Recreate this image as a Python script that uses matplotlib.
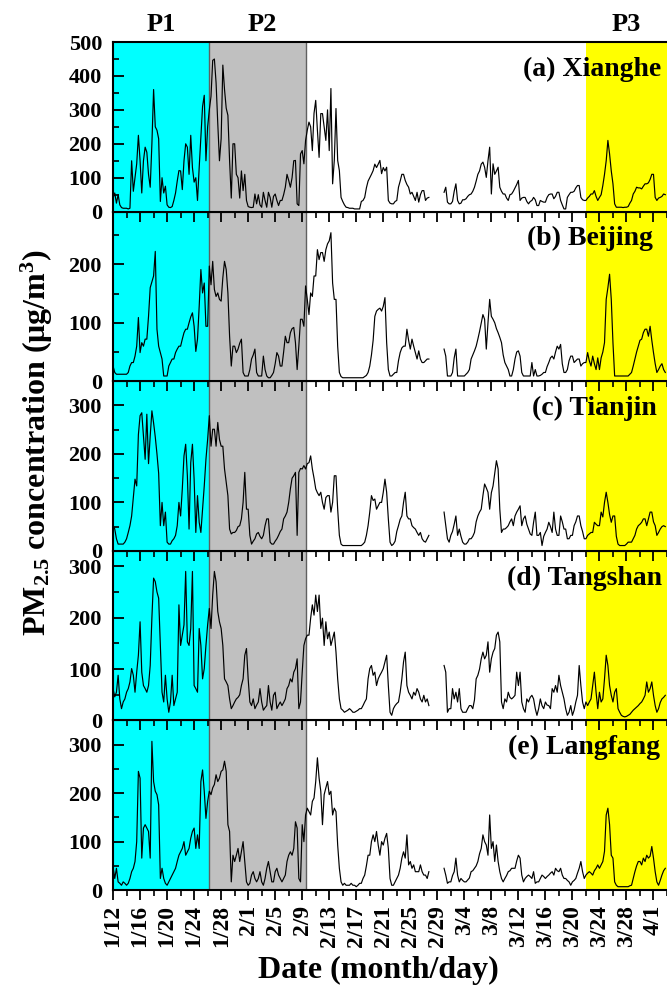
import matplotlib
matplotlib.use('Agg')
import matplotlib.pyplot as plt
import matplotlib.transforms as mtransforms
from matplotlib.ticker import MultipleLocator
import numpy as np
import pandas as pd

plt.rcParams['font.family'] = 'Liberation Serif'
plt.rcParams['font.weight'] = 'bold'
plt.rcParams['mathtext.fontset'] = 'custom'
plt.rcParams['mathtext.rm'] = 'Liberation Serif:bold'
plt.rcParams['mathtext.it'] = 'Liberation Serif:bold'
plt.rcParams['mathtext.bf'] = 'Liberation Serif:bold'
plt.rcParams['mathtext.default'] = 'rm'

nan = np.nan

# PM2.5, 6-hourly from 2016-01-12 00:00 (4 values per day)
xianghe = [
    40, 55, 25, 50, 20, 12, 10, 10, 10, 8, 10, 150, 60, 100, 141, 225,
    150, 55, 150, 190, 175, 110, 72, 200, 360, 250, 240, 215, 30, 100, 55, 75,
    20, 13, 12, 15, 33, 55, 90, 121, 120, 65, 150, 200, 190, 110, 225, 130,
    87, 100, 33, 130, 220, 310, 343, 150, 250, 300, 340, 446, 450, 380, 260, 150,
    215, 432, 360, 305, 284, 150, 40, 200, 200, 110, 100, 40, 120, 62, 110, 33,
    15, 13, 12, 13, 52, 23, 50, 20, 13, 57, 33, 13, 57, 42, 13, 45,
    52, 33, 18, 33, 33, 50, 72, 110, 92, 72, 100, 150, 151, 23, 18, 170,
    180, 141, 210, 240, 264, 250, 180, 290, 328, 240, 160, 289, 289, 250, 210, 300,
    180, 363, 82, 151, 304, 151, 121, 42, 30, 20, 13, 12, 10, 10, 10, 8,
    8, 8, 8, 30, 33, 42, 70, 90, 100, 110, 121, 140, 130, 140, 151, 112,
    130, 120, 131, 33, 25, 23, 23, 30, 33, 72, 90, 110, 110, 92, 80, 72,
    52, 57, 45, 33, 57, 28, 50, 62, 62, 33, 40, 42, nan, nan, nan, nan,
    nan, nan, nan, nan, 57, 72, 28, 23, 23, 30, 60, 82, 33, 23, 25, 35,
    35, 38, 45, 50, 52, 60, 72, 90, 110, 120, 140, 146, 131, 101, 150, 190,
    52, 141, 110, 120, 131, 72, 60, 52, 52, 40, 33, 50, 52, 60, 70, 80,
    92, 33, 40, 42, 42, 30, 23, 30, 33, 42, 35, 18, 18, 33, 30, 28,
    28, 42, 50, 52, 52, 38, 45, 57, 57, 33, 20, 8, 8, 42, 50, 57,
    57, 60, 70, 77, 77, 42, 35, 33, 33, 40, 45, 52, 52, 62, 45, 33,
    42, 50, 77, 110, 150, 210, 170, 120, 82, 23, 13, 13, 13, 13, 12, 13,
    13, 15, 25, 33, 52, 60, 72, 70, 70, 67, 75, 82, 82, 85, 95, 110,
    110, 42, 33, 40, 42, 45, 52, 50,
]
beijing = [
    26, 15, 12, 12, 12, 12, 12, 12, 12, 15, 26, 32, 32, 43, 60, 109,
    49, 66, 60, 72, 72, 111, 160, 170, 180, 222, 89, 60, 49, 38, 9, 9,
    9, 26, 32, 38, 38, 49, 55, 60, 60, 72, 83, 89, 89, 100, 110, 117,
    94, 51, 72, 128, 191, 151, 168, 94, 94, 197, 165, 205, 157, 145, 151, 140,
    137, 177, 205, 191, 151, 77, 26, 60, 60, 49, 55, 65, 72, 15, 9, 9,
    9, 20, 38, 45, 55, 15, 9, 9, 9, 43, 20, 9, 6, 6, 10, 15,
    30, 49, 43, 26, 26, 50, 77, 66, 66, 83, 90, 92, 66, 20, 60, 106,
    106, 94, 163, 140, 114, 151, 145, 180, 180, 225, 208, 220, 220, 205, 225, 235,
    240, 254, 168, 140, 140, 60, 15, 8, 6, 6, 6, 6, 6, 6, 6, 6,
    6, 6, 6, 6, 6, 8, 10, 15, 26, 45, 70, 111, 120, 123, 125, 120,
    128, 143, 66, 20, 9, 9, 12, 15, 15, 35, 49, 57, 60, 60, 89, 70,
    55, 72, 60, 49, 38, 52, 38, 32, 32, 35, 38, 38, nan, nan, nan, nan,
    nan, nan, nan, nan, 55, 43, 9, 9, 9, 15, 40, 55, 9, 9, 9, 9,
    9, 12, 15, 20, 38, 45, 52, 60, 72, 85, 100, 114, 106, 55, 100, 140,
    111, 106, 100, 90, 83, 75, 66, 45, 32, 26, 20, 9, 9, 20, 38, 50,
    52, 43, 15, 9, 9, 9, 9, 9, 32, 9, 20, 9, 9, 10, 12, 15,
    15, 25, 32, 40, 43, 38, 50, 60, 55, 63, 30, 15, 15, 20, 35, 43,
    43, 32, 35, 38, 38, 26, 30, 32, 32, 49, 35, 26, 43, 30, 20, 40,
    20, 40, 50, 66, 140, 160, 183, 140, 66, 9, 9, 9, 9, 9, 9, 9,
    9, 9, 12, 15, 26, 38, 50, 60, 70, 72, 83, 89, 89, 77, 94, 70,
    49, 30, 15, 20, 26, 30, 20, 15,
]
tianjin = [
    52, 45, 25, 14, 14, 14, 14, 18, 25, 38, 52, 72, 110, 148, 134, 240,
    279, 285, 237, 189, 282, 180, 237, 289, 264, 235, 200, 160, 52, 100, 52, 80,
    18, 14, 14, 21, 25, 32, 52, 100, 72, 128, 196, 220, 155, 45, 182, 220,
    148, 38, 114, 59, 38, 86, 134, 189, 230, 279, 216, 251, 251, 216, 265, 230,
    216, 216, 169, 142, 114, 45, 35, 38, 38, 42, 50, 52, 66, 100, 162, 86,
    86, 32, 14, 20, 25, 35, 38, 30, 25, 32, 52, 66, 66, 18, 14, 14,
    20, 25, 32, 40, 45, 66, 72, 80, 100, 128, 150, 155, 162, 32, 162, 170,
    169, 176, 169, 180, 182, 196, 169, 150, 128, 120, 114, 121, 100, 86, 110, 114,
    114, 80, 100, 155, 155, 86, 32, 14, 11, 11, 11, 11, 11, 11, 11, 11,
    11, 11, 11, 11, 14, 18, 32, 52, 80, 114, 104, 107, 86, 93, 100, 100,
    121, 148, 121, 66, 18, 11, 14, 20, 40, 52, 65, 72, 100, 121, 72, 66,
    66, 52, 48, 45, 38, 32, 38, 25, 20, 18, 25, 32, nan, nan, nan, nan,
    nan, nan, nan, nan, 80, 52, 25, 18, 32, 40, 55, 72, 32, 45, 30, 18,
    14, 14, 18, 25, 25, 30, 38, 60, 72, 80, 86, 114, 138, 130, 121, 86,
    120, 134, 160, 186, 169, 86, 38, 45, 45, 48, 52, 60, 66, 52, 72, 80,
    86, 93, 52, 66, 72, 55, 45, 35, 32, 59, 80, 32, 32, 38, 11, 30,
    38, 45, 59, 50, 38, 80, 45, 32, 32, 72, 60, 45, 45, 25, 25, 32,
    32, 52, 60, 72, 72, 52, 40, 25, 25, 32, 35, 38, 38, 59, 55, 52,
    52, 80, 70, 100, 121, 100, 75, 59, 72, 72, 30, 14, 11, 11, 11, 11,
    14, 18, 18, 18, 25, 32, 45, 52, 55, 59, 66, 66, 52, 66, 80, 80,
    60, 52, 32, 38, 45, 50, 52, 50,
]
tangshan = [
    62, 46, 55, 88, 42, 23, 36, 42, 55, 62, 75, 101, 88, 55, 94, 127,
    192, 94, 68, 62, 55, 68, 107, 200, 277, 270, 250, 238, 146, 55, 36, 88,
    42, 16, 36, 88, 29, 42, 55, 225, 146, 166, 186, 290, 153, 146, 179, 290,
    68, 62, 55, 179, 146, 81, 101, 146, 186, 218, 179, 244, 290, 270, 212, 192,
    179, 146, 81, 75, 68, 42, 23, 29, 36, 42, 45, 50, 68, 81, 127, 140,
    81, 36, 29, 42, 23, 30, 36, 62, 36, 20, 25, 29, 68, 36, 20, 49,
    55, 23, 30, 36, 29, 35, 42, 62, 68, 81, 75, 94, 101, 120, 23, 36,
    94, 146, 159, 166, 166, 199, 225, 205, 244, 212, 244, 179, 199, 146, 192, 159,
    172, 146, 159, 172, 133, 81, 42, 23, 20, 16, 18, 20, 23, 20, 16, 16,
    18, 20, 23, 23, 29, 36, 42, 81, 101, 107, 88, 94, 68, 81, 88, 94,
    101, 114, 127, 68, 16, 10, 23, 29, 33, 36, 55, 81, 114, 133, 68, 55,
    49, 42, 55, 49, 62, 55, 42, 36, 49, 36, 42, 29, nan, nan, nan, nan,
    nan, nan, nan, nan, 107, 94, 16, 23, 23, 62, 42, 55, 36, 62, 23, 16,
    16, 16, 23, 29, 29, 23, 40, 81, 88, 100, 120, 133, 120, 127, 153, 94,
    120, 133, 140, 166, 172, 153, 36, 23, 42, 36, 55, 45, 42, 45, 49, 94,
    68, 94, 36, 23, 16, 42, 36, 45, 49, 42, 23, 10, 23, 42, 29, 23,
    36, 30, 29, 23, 62, 55, 68, 55, 88, 68, 55, 42, 23, 10, 16, 29,
    10, 20, 36, 49, 107, 68, 36, 23, 36, 29, 36, 42, 68, 94, 55, 23,
    55, 36, 42, 81, 127, 107, 68, 49, 36, 55, 62, 23, 16, 10, 8, 7,
    8, 10, 12, 16, 20, 23, 26, 29, 33, 36, 42, 49, 75, 55, 62, 75,
    49, 29, 16, 23, 35, 42, 45, 49,
]
langfang = [
    48, 24, 45, 17, 14, 10, 17, 14, 10, 14, 24, 38, 45, 59, 100, 245,
    231, 66, 128, 135, 128, 121, 66, 307, 224, 204, 197, 176, 24, 45, 24, 14,
    10, 17, 24, 31, 38, 45, 59, 72, 79, 86, 100, 72, 79, 86, 107, 121,
    128, 86, 114, 86, 224, 248, 204, 148, 183, 204, 197, 211, 218, 238, 224, 231,
    245, 248, 266, 245, 135, 121, 17, 72, 59, 72, 86, 59, 79, 100, 59, 17,
    10, 14, 31, 38, 24, 17, 24, 38, 17, 10, 24, 45, 59, 38, 17, 17,
    38, 45, 31, 24, 17, 24, 31, 59, 72, 79, 72, 86, 141, 128, 24, 17,
    135, 100, 155, 169, 162, 155, 183, 190, 224, 273, 231, 204, 135, 197, 211, 224,
    197, 204, 155, 169, 162, 93, 45, 17, 10, 14, 10, 10, 10, 14, 10, 10,
    7, 10, 14, 14, 24, 31, 50, 72, 72, 100, 114, 100, 121, 93, 72, 100,
    93, 107, 117, 86, 24, 10, 10, 17, 24, 31, 45, 66, 79, 66, 114, 52,
    59, 45, 52, 38, 38, 38, 52, 38, 31, 31, 24, 38, nan, nan, nan, nan,
    nan, nan, nan, nan, 45, 31, 14, 17, 17, 30, 38, 66, 31, 17, 24, 20,
    17, 17, 21, 25, 38, 40, 45, 50, 59, 75, 86, 114, 100, 93, 72, 155,
    86, 100, 59, 93, 59, 38, 24, 17, 24, 30, 38, 40, 45, 45, 45, 60,
    72, 66, 31, 17, 24, 28, 31, 28, 24, 38, 14, 17, 17, 24, 31, 28,
    24, 28, 31, 35, 38, 31, 45, 40, 38, 45, 31, 24, 24, 20, 17, 10,
    17, 20, 24, 35, 45, 59, 38, 24, 31, 35, 38, 35, 31, 40, 45, 52,
    45, 52, 59, 80, 155, 169, 135, 72, 66, 17, 10, 7, 7, 7, 7, 7,
    7, 7, 9, 10, 24, 38, 50, 59, 59, 52, 66, 59, 72, 66, 70, 90,
    66, 38, 17, 10, 20, 31, 40, 45,
]

series = [xianghe, beijing, tianjin, tangshan, langfang]
site_labels = ['(a) Xianghe', '(b) Beijing', '(c) Tianjin', '(d) Tangshan', '(e) Langfang']
y_max = [500, 290, 350, 330, 350]
y_ticks = [[0, 100, 200, 300, 400, 500], [0, 100, 200], [0, 100, 200, 300],
           [0, 100, 200, 300], [0, 100, 200, 300]]
label_x = [0.740, 0.747, 0.756, 0.711, 0.713]

start = pd.Timestamp('2016-01-12')
end = pd.Timestamp('2016-04-03')
times = pd.date_range(start, periods=len(xianghe), freq='6h')

period_names = ['P1', 'P2', 'P3']
period_start = [pd.Timestamp('2016-01-12'), pd.Timestamp('2016-01-26 05:00'), pd.Timestamp('2016-03-22')]
period_end = [pd.Timestamp('2016-01-26 05:00'), pd.Timestamp('2016-02-09 14:00'), end]
period_colors = ['#00ffff', '#c0c0c0', '#ffff00']
period_label_shift = [0, 0.7, 0]  # days

major = pd.date_range(start, end, freq='4D')
minor = pd.date_range(start, end, freq='2D')
major_labels = [f'{d.month}/{d.day}' for d in major]

fig = plt.figure(figsize=(6.67, 9.89), dpi=100)
left, right, bottom, top = 0.1695, 1.0, 0.1, 0.9575
h = (top - bottom) / 5

axes = []
for i in range(5):
    ax = fig.add_axes([left, top - (i + 1) * h, right - left, h])
    ax.set_zorder(10 - i)
    axes.append(ax)

    for s, e, c in zip(period_start, period_end, period_colors):
        ax.axvspan(s, e, color=c, lw=0, zorder=0)
    ax.axvline(period_start[1], color='#606060', lw=1.0, zorder=1)
    ax.axvline(period_end[1], color='#606060', lw=1.0, zorder=1)

    ax.plot(times, series[i], color='black', lw=0.85, zorder=3)

    ax.set_xlim(start, end)
    ax.set_ylim(0, y_max[i])
    ax.set_yticks(y_ticks[i])
    ax.yaxis.set_minor_locator(MultipleLocator(50))
    ax.tick_params(axis='y', which='major', direction='in', length=8, width=1.3,
                   labelsize=16, pad=8)
    ax.tick_params(axis='y', which='minor', direction='in', length=4.5, width=1.2)

    ax.set_xticks(major.to_pydatetime())
    ax.set_xticks(minor.to_pydatetime(), minor=True)
    ax.tick_params(axis='x', which='major', direction='out', length=7, width=1.3)
    ax.tick_params(axis='x', which='minor', direction='out', length=4, width=1.2)
    if i == 4:
        ax.set_xticklabels(major_labels, rotation=90, fontsize=17)
    else:
        ax.set_xticklabels([])

    for sp in ax.spines.values():
        sp.set_linewidth(1.5)
    ax.spines['right'].set_visible(False)

    ax.text(label_x[i], 0.84, site_labels[i], transform=ax.transAxes,
            ha='left', va='center', fontsize=20, fontweight='bold', zorder=5)

trans = mtransforms.blended_transform_factory(axes[0].transData, axes[0].transAxes)
for name, s, e, sh in zip(period_names, period_start, period_end, period_label_shift):
    mid = s + (e - s) / 2 + pd.Timedelta(days=sh)
    axes[0].text(mid, 1.105, name, transform=trans, ha='center', va='center',
                 fontsize=19, fontweight='bold', clip_on=False)

fig.text(0.055, 0.553, 'PM$_{2.5}$ concentration (μg/m$^3$)', rotation=90,
         ha='center', va='center', fontsize=23, fontweight='bold')
fig.text(0.568, 0.019, 'Date (month/day)', ha='center', va='center',
         fontsize=23, fontweight='bold')

fig.savefig('out.png', dpi=100)
